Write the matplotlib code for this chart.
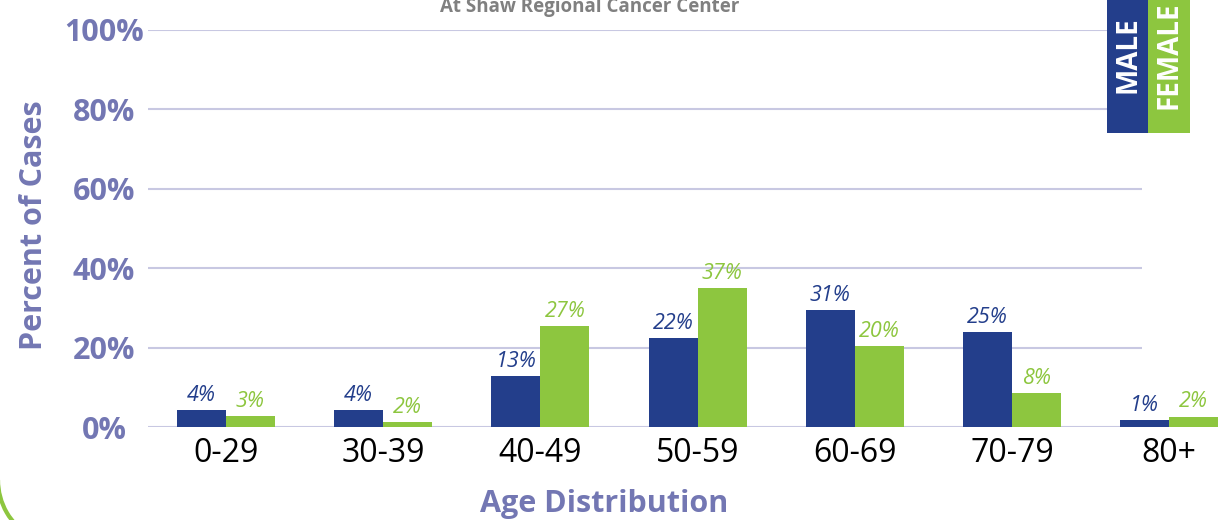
import numpy as np
import matplotlib
matplotlib.use("Agg")
import matplotlib.pyplot as plt
from matplotlib.patches import Rectangle, Arc

plt.rcParams['font.family'] = ['Open Sans', 'DejaVu Sans']

# data
ages = ['0-29', '30-39', '40-49', '50-59', '60-69', '70-79', '80+']
male = [4.4, 4.4, 12.9, 22.5, 29.5, 24.0, 1.8]
female = [2.8, 1.3, 25.5, 35.1, 20.5, 8.6, 2.7]
male_labels = ['4%', '4%', '13%', '22%', '31%', '25%', '1%']
female_labels = ['3%', '2%', '27%', '37%', '20%', '8%', '2%']
yticks = [0, 20, 40, 60, 80, 100]

navy = '#233e8b'
green = '#8dc63f'
slate = '#7377b3'
grid_col = '#c8c8e2'

W, H = 1218, 520
fig = plt.figure(figsize=(W / 100, H / 100), dpi=100)
ax = fig.add_axes([148 / W, 1 - 427.3 / H, (W - 148) / W, (427.3 - 29.5) / H])

x = np.arange(len(ages))
w = 0.3115
bm = ax.bar(x - w / 2, male, w, color=navy, zorder=3)
bf = ax.bar(x + w / 2, female, w, color=green, zorder=3)

for rect, lab in zip(bm, male_labels):
    ax.annotate(lab, (rect.get_x() + rect.get_width() / 2, rect.get_height()),
                xytext=(0, 3), textcoords='offset points', ha='center', va='bottom',
                fontsize=15.5, style='italic', color=navy)
for rect, lab in zip(bf, female_labels):
    ax.annotate(lab, (rect.get_x() + rect.get_width() / 2, rect.get_height()),
                xytext=(0, 3), textcoords='offset points', ha='center', va='bottom',
                fontsize=15.5, style='italic', color=green)

ax.set_yticks(yticks)
ax.set_yticklabels([f'{t}%' for t in yticks], fontsize=22, fontweight='bold', color=slate)
for lab in ax.get_yticklabels():
    lab.set_ha('center')
ax.tick_params(axis='y', length=0, pad=31.7)
ax.set_xticks(x)
ax.set_xticklabels(ages, fontsize=23, color='black')
ax.tick_params(axis='x', length=0, pad=7)
ax.set_xlim(-0.496, 6.31)
ax.set_ylim(0, 100)
for s in ax.spines.values():
    s.set_visible(False)

# grid lines stop short of the last group, as in the original
ax.hlines(yticks, 0, (1142 - 148) / (W - 148), transform=ax.get_yaxis_transform(),
          color=grid_col, linewidth=1.5, zorder=0)

fig.text(34 / W, 1 - 225 / H, 'Percent of Cases', rotation=90, ha='center', va='center',
         fontsize=22, fontweight='bold', color=slate)
fig.text(604 / W, 1 - 512 / H, 'Age Distribution', ha='center', va='baseline',
         fontsize=22, fontweight='bold', color=slate)
fig.text(590 / W, 1 - 12 / H, 'At Shaw Regional Cancer Center', ha='center', va='baseline',
         fontsize=13.5, fontweight='bold', color='#808080')

# legend boxes
fig.add_artist(Rectangle((1107 / W, 1 - 133 / H), 41 / W, 133 / H, transform=fig.transFigure,
                         facecolor=navy, edgecolor='none'))
fig.add_artist(Rectangle((1148 / W, 1 - 133 / H), 42 / W, 133 / H, transform=fig.transFigure,
                         facecolor=green, edgecolor='none'))
fig.text(1128 / W, 1 - 55 / H, 'MALE', rotation=90, ha='center', va='center',
         fontsize=20, fontweight='bold', color='white')
fig.text(1169 / W, 1 - 55 / H, 'FEMALE', rotation=90, ha='center', va='center',
         fontsize=20, fontweight='bold', color='white')

# decorative corner
fig.add_artist(Arc((63, 40), 130, 130, theta1=180, theta2=240, transform=None,
                   color=green, linewidth=3))

fig.savefig('out.png', dpi=100)
